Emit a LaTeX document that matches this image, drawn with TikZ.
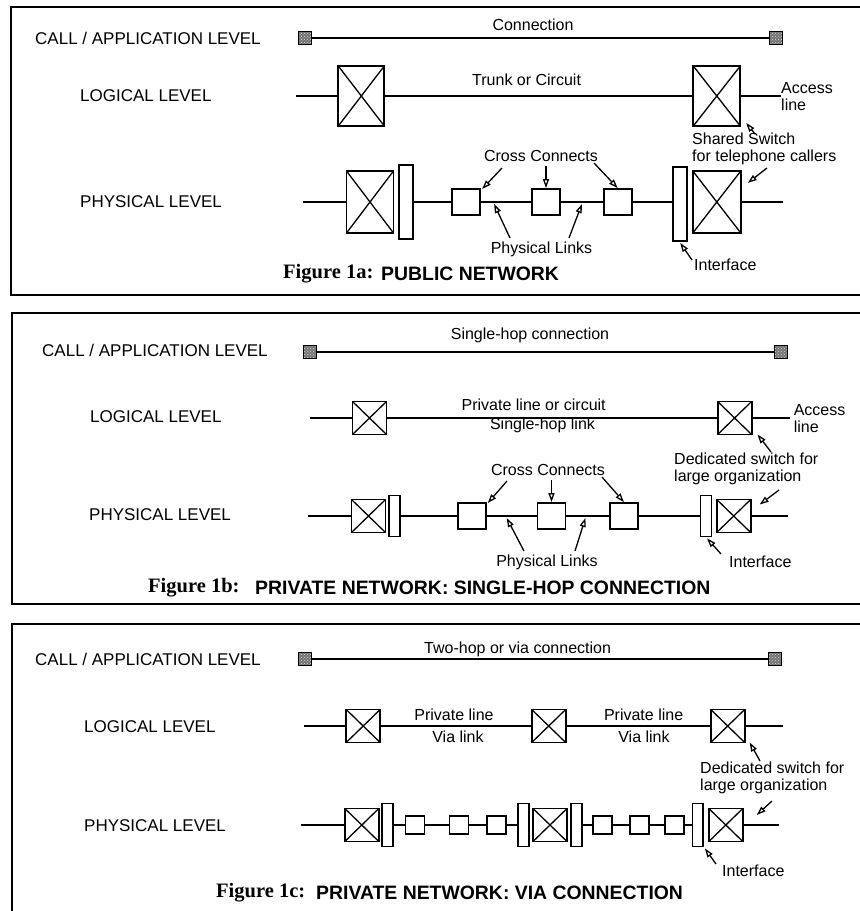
\documentclass[tikz,border=0pt]{standalone}
\usepackage{fontspec}
\setmainfont{Liberation Sans}
\newfontfamily\figserif{Liberation Serif}
\usetikzlibrary{arrows.meta,calc,patterns}
\begin{document}
\begin{tikzpicture}[x=1pt,y=-1pt,
  lab/.style={font=\fontsize{16}{17}\selectfont, inner sep=0pt},
  lev/.style={font=\fontsize{17}{18}\selectfont, anchor=west, inner sep=0pt},
  capa/.style={font=\figserif\bfseries\fontsize{20.5}{21}\selectfont, anchor=west, inner sep=0pt},
  capb/.style={font=\bfseries\fontsize{19.4}{21}\selectfont, anchor=west, inner sep=0pt},
  xsw/.style n args={2}{draw, line width=1.9pt, fill=white, minimum width=#1pt, minimum height=#2pt, inner sep=0pt,
    path picture={\draw[line width=1.3pt] (path picture bounding box.north west) -- (path picture bounding box.south east)
      (path picture bounding box.north east) -- (path picture bounding box.south west);}},
  ifc/.style n args={2}{draw, line width=1.8pt, fill=white, minimum width=#1pt, minimum height=#2pt, inner sep=0pt},
  term/.style={draw, line width=1.2pt, fill=black!55, minimum size=13pt, inner sep=0pt,
    path picture={\fill[pattern=crosshatch dots, pattern color=white!85!black] (path picture bounding box.south west) rectangle (path picture bounding box.north east);}},
  wire/.style={line width=1.7pt},
  ptr/.style={line width=1.3pt, -{Triangle[open,length=9pt,width=6pt]}},
  frame/.style={line width=2.2pt}]
\useasboundingbox (0,0) rectangle (860,911);

% ================= Panel 1 =================
\draw[frame] (860,7) -- (11,7) -- (11,295) -- (860,295);
\node[lev] (p1call) at (35,38) {CALL / APPLICATION LEVEL};
\node[lev] (p1log) at (80,96) {LOGICAL LEVEL};
\node[lev] (p1phy) at (80,202) {PHYSICAL LEVEL};

\node[term] (p1t1) at (305,38) {};
\node[term] (p1t2) at (775.7,38) {};
\draw[wire] (p1t1) -- (p1t2);
\node[lab] (p1conn) at (533,25) {Connection};

\coordinate (p1ls) at (296,96);
\node[xsw={46}{60}] (p1la) at (361.3,96) {};
\node[xsw={47}{60}] (p1lb) at (716.8,96) {};
\node[lab, anchor=west, align=left] (p1acc) at (781,97) {Access\\line};
\draw[wire] (p1ls) -- (p1la.west) (p1la.east) -- (p1lb.west) (p1lb.east) -- (p1lb.east -| p1acc.west);
\node[lab] (p1trunk) at (526.6,80) {Trunk or Circuit};
\node[lab, anchor=north west, align=left] (p1ss) at (692,133) {Shared Switch\\for telephone callers};
\coordinate (p1ssT) at (755,134);
\draw[ptr] (p1ssT) -- ($(p1lb.south east)+(5,-4)$);

\coordinate (p1ps) at (302.5,202);
\node[xsw={47}{62}] (p1x1) at (370,202) {};
\node[ifc={14}{74}] (p1i1) at (405.7,202) {};
\node[ifc={28}{26}] (p1c1) at (466.2,202) {};
\node[ifc={28}{26}] (p1c2) at (546,202) {};
\node[ifc={28}{26}] (p1c3) at (617.7,202) {};
\node[ifc={14}{74}] (p1i2) at (680.2,204) {};
\node[xsw={48}{62}] (p1x2) at (716.8,202) {};
\coordinate (p1pe) at (783,202);
\draw[wire] (p1ps) -- (p1x1.west)
  (p1i1.east) -- (p1c1.west)
  (p1c1.east) -- (p1c2.west)
  (p1c2.east) -- (p1c3.west)
  (p1c3.east) -- (p1c3.east -| p1i2.west)
  (p1x2.east) -- (p1pe);
\coordinate (p1calT) at (767,168);
\draw[ptr] (p1calT) -- ($(p1x2.east)+(6,-19)$);

\node[lab] (p1cc) at (541,156) {Cross Connects};
\coordinate (p1a1) at (502,168);
\coordinate (p1a2) at (546,166);
\coordinate (p1a3) at (594,163);
\draw[ptr] (p1a1) -- ($(p1c1.north east)+(1,1)$);
\draw[ptr] (p1a2) -- (p1c2.north);
\draw[ptr] (p1a3) -- (p1c3.north);

\node[lab] (p1pl) at (541.5,249) {Physical Links};
\coordinate (p1b1) at (510,238);
\coordinate (p1b2) at (569,238);
\draw[ptr] (p1b1) -- ($(p1c1.east)+(13,2)$);
\draw[ptr] (p1b2) -- ($(p1c2.east)+(21,2)$);

\node[lab, anchor=west] (p1if) at (694,265) {Interface};
\coordinate (p1ifT) at (692,260);
\draw[ptr] (p1ifT) -- ($(p1i2.south)+(0,1)$);

\node[capa] (p1capa) at (283,274) {Figure 1a:};
\node[capb] (p1capb) at (381,274) {PUBLIC NETWORK};

% ================= Panel 2 =================
\draw[frame] (860,313) -- (12,313) -- (12,604) -- (860,604);
\node[lev] (p2call) at (42,350) {CALL / APPLICATION LEVEL};
\node[lev] (p2log) at (90,417) {LOGICAL LEVEL};
\node[lev] (p2phy) at (89,515) {PHYSICAL LEVEL};

\node[term] (p2t1) at (309.6,352) {};
\node[term] (p2t2) at (781,352) {};
\draw[wire] (p2t1) -- (p2t2);
\node[lab] (p2conn) at (530,335) {Single-hop connection};

\coordinate (p2ls) at (309.6,418);
\node[xsw={34}{33}] (p2la) at (369.5,418) {};
\node[xsw={34}{33}] (p2lb) at (734.6,418) {};
\node[lab, anchor=west, align=left] (p2acc) at (793.6,419) {Access\\line};
\coordinate (p2le) at (790,418);
\draw[wire] (p2ls) -- (p2la.west) (p2la.east) -- (p2lb.west) (p2lb.east) -- (p2le);
\node[lab] (p2pl1) at (533.7,405) {Private line or circuit};
\node[lab] (p2pl2) at (542.5,425) {Single-hop link};
\coordinate (p2dsT) at (771,452);
\draw[ptr] (p2dsT) -- ($(p2lb.south east)+(5,-1)$);
\node[lab, anchor=north west, align=left] (p2ds) at (674,453) {Dedicated switch for\\large organization};

\coordinate (p2ps) at (307.9,516);
\node[xsw={34}{33}] (p2x1) at (368.5,516) {};
\node[ifc={11}{41}] (p2i1) at (394.6,516) {};
\node[ifc={28}{26}] (p2c1) at (471.8,516) {};
\node[ifc={28}{26}] (p2c2) at (551.5,516) {};
\node[ifc={28}{26}] (p2c3) at (624,516) {};
\node[ifc={11}{41}] (p2i2) at (706,516) {};
\node[xsw={34}{33}] (p2x2) at (733.7,516) {};
\coordinate (p2pe) at (788,516);
\draw[wire] (p2ps) -- (p2x1.west)
  (p2i1.east) -- (p2c1.west)
  (p2c1.east) -- (p2c2.west)
  (p2c2.east) -- (p2c3.west)
  (p2c3.east) -- (p2i2.west)
  (p2x2.east) -- (p2pe);
\coordinate (p2loT) at (779,490);
\draw[ptr] (p2loT) -- ($(p2x2.north east)+(8,6)$);

\node[lab] (p2cc) at (548,470) {Cross Connects};
\coordinate (p2a1) at (507,481);
\coordinate (p2a2) at (551.5,480);
\coordinate (p2a3) at (602,477);
\draw[ptr] (p2a1) -- ($(p2c1.north east)+(1,1)$);
\draw[ptr] (p2a2) -- (p2c2.north);
\draw[ptr] (p2a3) -- (p2c3.north);

\node[lab] (p2pl) at (547,562) {Physical Links};
\coordinate (p2b1) at (524,551);
\coordinate (p2b2) at (575,551);
\draw[ptr] (p2b1) -- ($(p2c1.east)+(20,2)$);
\draw[ptr] (p2b2) -- ($(p2c2.east)+(19,2)$);

\node[lab, anchor=west] (p2if) at (729,562) {Interface};
\coordinate (p2ifT) at (721,554);
\draw[ptr] (p2ifT) -- ($(p2i2.south)+(1,1)$);

\node[capa] (p2capa) at (148,588) {Figure 1b:};
\node[capb] (p2capb) at (255,588) {PRIVATE NETWORK: SINGLE-HOP CONNECTION};

% ================= Panel 3 =================
\draw[frame] (860,624) -- (12,624) -- (12,911);
\node[lev] (p3call) at (35,659) {CALL / APPLICATION LEVEL};
\node[lev] (p3log) at (84,727) {LOGICAL LEVEL};
\node[lev] (p3phy) at (84,826) {PHYSICAL LEVEL};

\node[term] (p3t1) at (304.6,659) {};
\node[term] (p3t2) at (775,659) {};
\draw[wire] (p3t1) -- (p3t2);
\node[lab] (p3conn) at (517.6,649) {Two-hop or via connection};

\coordinate (p3ls) at (303.6,726);
\node[xsw={34}{33}] (p3l1) at (363.2,726) {};
\node[xsw={34}{33}] (p3l2) at (548.7,726) {};
\node[xsw={34}{33}] (p3l3) at (727.7,726) {};
\coordinate (p3le) at (783,726);
\draw[wire] (p3ls) -- (p3l1.west) (p3l1.east) -- (p3l2.west) (p3l2.east) -- (p3l3.west) (p3l3.east) -- (p3le);
\node[lab] (p3pa1) at (454,715) {Private line};
\node[lab] (p3va1) at (458,737) {Via link};
\node[lab] (p3pa2) at (643.6,715) {Private line};
\node[lab] (p3va2) at (644,737) {Via link};
\coordinate (p3dsT) at (760,761);
\draw[ptr] (p3dsT) -- ($(p3l3.south east)+(4,-1)$);
\node[lab, anchor=north west, align=left] (p3ds) at (700,762) {Dedicated switch for\\large organization};

\coordinate (p3ps) at (300.7,825);
\node[xsw={34}{33}] (p3x1) at (361.8,825) {};
\node[ifc={10.5}{43}] (p3r1) at (387.5,825) {};
\node[ifc={19}{18}] (p3c1) at (415,825) {};
\node[ifc={19}{18}] (p3c2) at (459,825) {};
\node[ifc={19}{18}] (p3c3) at (496.8,825) {};
\node[ifc={10.5}{43}] (p3r2) at (523.6,825) {};
\node[xsw={34}{33}] (p3x2) at (550,825) {};
\node[ifc={10.5}{43}] (p3r3) at (576.5,825) {};
\node[ifc={19}{18}] (p3c4) at (602.2,825) {};
\node[ifc={19}{18}] (p3c5) at (639.5,825) {};
\node[ifc={19}{18}] (p3c6) at (674.4,825) {};
\node[ifc={10.5}{43}] (p3r4) at (697.7,825) {};
\node[xsw={34}{33}] (p3x3) at (725.8,825) {};
\coordinate (p3pe) at (779,825);
\draw[wire] (p3ps) -- (p3x1.west)
  (p3r1.east) -- (p3c1.west)
  (p3c1.east) -- (p3c2.west)
  (p3c2.east) -- (p3c3.west)
  (p3c3.east) -- (p3r2.west)
  (p3r3.east) -- (p3c4.west)
  (p3c4.east) -- (p3c5.west)
  (p3c5.east) -- (p3c6.west)
  (p3c6.east) -- (p3r4.west)
  (p3x3.east) -- (p3pe);
\coordinate (p3loT) at (772,801);
\draw[ptr] (p3loT) -- ($(p3x3.east)+(13,-10)$);

\node[lab, anchor=west] (p3if) at (722,871) {Interface};
\coordinate (p3ifT) at (716,864);
\draw[ptr] (p3ifT) -- ($(p3r4.south east)+(1,1)$);

\node[capa] (p3capa) at (216,893) {Figure 1c:};
\node[capb] (p3capb) at (316,893) {PRIVATE NETWORK: VIA CONNECTION};
\end{tikzpicture}
\end{document}
